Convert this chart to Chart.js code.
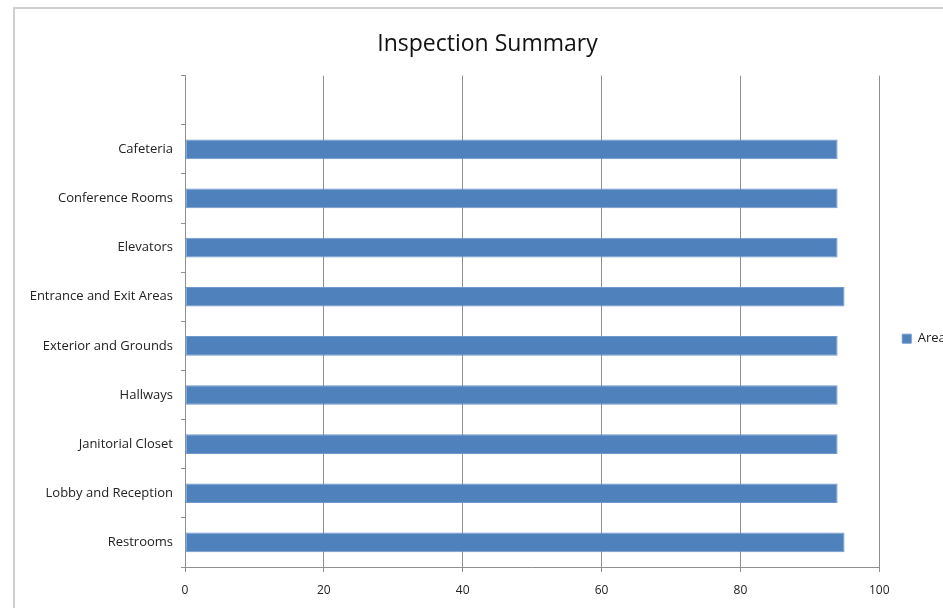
<!DOCTYPE html>
<html>
<head>
<meta charset="utf-8">
<script src="https://cdn.jsdelivr.net/npm/chart.js@4.4.0/dist/chart.umd.min.js"></script>
<style>
  html, body { margin: 0; padding: 0; background: #fff; overflow: hidden; }
  #frame { position: absolute; left: 13px; top: 7px; width: 1000px; height: 700px; border: 2px solid #cfcfcf; }
  #inspectionChart { position: absolute; left: 13px; top: 0; }
</style>
</head>
<body>
<div id="frame"></div>
<canvas id="inspectionChart" width="1000" height="608"></canvas>
<script>
// areas, top to bottom (first slot is empty in the source sheet)
const areaLabels = [
    '',
    'Cafeteria',
    'Conference Rooms',
    'Elevators',
    'Entrance and Exit Areas',
    'Exterior and Grounds',
    'Hallways',
    'Janitorial Closet',
    'Lobby and Reception',
    'Restrooms'
];
const areaScores = [null, 94, 94, 94, 95, 94, 94, 94, 94, 95];
const xTicks = [0, 20, 40, 60, 80, 100];

const labelFont = "'Open Sans', sans-serif";
const gridGray = '#8f8f8f';

const ctx = document.getElementById('inspectionChart');

const inspectionChart = new Chart(ctx.getContext('2d'), {
    type: 'bar',
    data: {
        labels: areaLabels,
        datasets: [{
            label: 'Areas',
            data: areaScores,
            backgroundColor: '#4f81bd',
            borderColor: '#6f98cc',
            borderWidth: 1,
            borderSkipped: false,
            categoryPercentage: 1,
            barPercentage: 0.4
        }]
    },
    options: {
        indexAxis: 'y',
        responsive: false,
        devicePixelRatio: 1,
        animation: false,
        layout: {
            padding: { left: 0, right: 51, top: 0, bottom: 11 }
        },
        plugins: {
            title: {
                display: true,
                text: 'Inspection Summary',
                color: '#111',
                font: { size: 23, family: labelFont, weight: 'normal' },
                padding: { top: 31, bottom: 17 }
            },
            legend: {
                display: true,
                position: 'right',
                title: {
                    display: true,
                    text: '',
                    font: { size: 12 },
                    padding: { top: 0, bottom: 66 }
                },
                labels: {
                    boxWidth: 9,
                    boxHeight: 9,
                    padding: 23,
                    color: '#222',
                    font: { size: 13, family: labelFont }
                }
            },
            tooltip: { enabled: false }
        },
        scales: {
            x: {
                min: 0,
                max: 100,
                afterBuildTicks: function(scale) {
                    scale.ticks = xTicks.map(v => ({ value: v }));
                },
                afterFit: function(scale) {
                    scale.height = 30;
                },
                ticks: {
                    color: '#222',
                    padding: 11,
                    font: { size: 12, family: labelFont }
                },
                grid: {
                    color: gridGray,
                    lineWidth: 1,
                    tickLength: 5,
                    drawTicks: true
                },
                border: { display: true, color: gridGray, width: 1 }
            },
            y: {
                afterFit: function(scale) {
                    scale.width = 172;
                },
                ticks: {
                    color: '#222',
                    padding: 8,
                    font: { size: 13, family: labelFont }
                },
                grid: {
                    offset: true,
                    drawOnChartArea: false,
                    drawTicks: true,
                    tickLength: 4,
                    color: gridGray
                },
                border: { display: true, color: gridGray, width: 1 }
            }
        }
    }
});
</script>
</body>
</html>
